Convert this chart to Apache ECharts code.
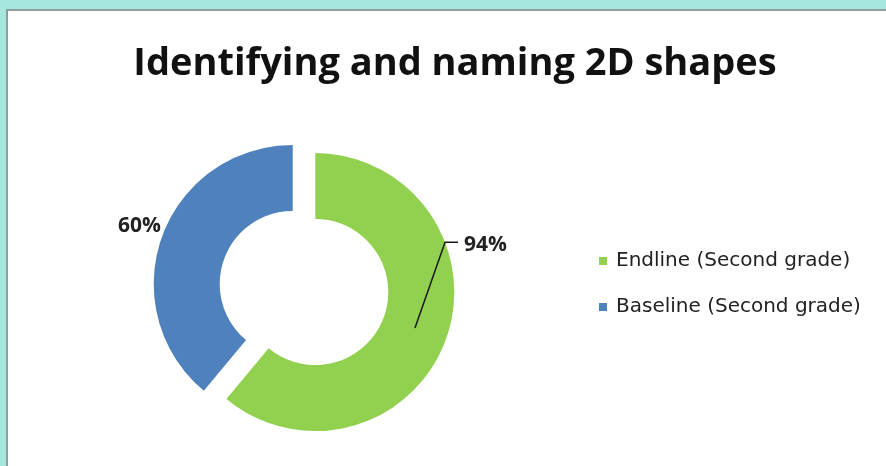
<!DOCTYPE html>
<html>
<head>
<meta charset="utf-8">
<title>Identifying and naming 2D shapes</title>
<script src="https://cdn.jsdelivr.net/npm/echarts@6/dist/echarts.min.js"></script>
<style>
  html, body { margin: 0; padding: 0; width: 886px; height: 466px; overflow: hidden; background: #a6e8e0; }
  #panel {
    position: absolute; left: 6px; top: 9px; right: 0; bottom: 0;
    background: #ffffff;
    border-top: 2px solid #8e9e9c; border-left: 2px solid #8e9e9c;
  }
  #chart { position: absolute; left: 0; top: 0; width: 886px; height: 466px; }
</style>
</head>
<body>
<div id="panel"></div>
<div id="chart"></div>
<script>
// Chart data
const titleText = 'Identifying and naming 2D shapes';
const categories = ['Endline (Second grade)', 'Baseline (Second grade)'];
const values = [94, 60];
const colors = ['#92d050', '#4f81bd'];

// Donut layout (pixels)
const CENTER = [304, 288];
const R_IN = 73;
const R_OUT = 139;
const EXPLODE = 12;
const LEADER_ANGLE = 69;   // where the 94% leader meets the outer edge
const FONT = '"Open Sans", Lato, sans-serif';
const LEGEND_FONT = '"DejaVu Sans", "Open Sans", sans-serif';

const total = values.reduce((a, b) => a + b, 0);

function midAngle(i) {
  let before = 0;
  for (let k = 0; k < i; k++) before += values[k];
  return (before + values[i] / 2) / total * 360;
}
function polar(c, r, deg) {
  const a = deg * Math.PI / 180;
  return [c[0] + r * Math.sin(a), c[1] - r * Math.cos(a)];
}
function sliceCenter(i) {
  return polar(CENTER, EXPLODE, midAngle(i));
}

// Value labels: the first slice gets an elbow leader line, the second sits beside its arc
function labelGraphics() {
  const els = [];
  const labelFont = 'bold 21px ' + FONT;

  const sc0 = sliceCenter(0);
  const start = polar(sc0, (R_IN + R_OUT) / 2, midAngle(0));
  const elbow = polar(sc0, R_OUT, LEADER_ANGLE);
  const end = [elbow[0] + 13, elbow[1]];
  els.push({
    type: 'polyline', z: 100,
    shape: { points: [start, elbow, end] },
    style: { stroke: '#1a1a1a', lineWidth: 1.5, fill: null }
  });
  els.push({
    type: 'text', z: 100, x: end[0] + 6, y: end[1] + 3,
    style: { text: values[0] + '%', font: labelFont, fill: '#222', textAlign: 'left', textVerticalAlign: 'middle' }
  });

  const sc1 = sliceCenter(1);
  const pos = polar(sc1, R_OUT + 24, midAngle(1));
  els.push({
    type: 'text', z: 100, x: pos[0], y: pos[1] - 3,
    style: { text: values[1] + '%', font: labelFont, fill: '#222', textAlign: 'center', textVerticalAlign: 'middle' }
  });
  return els;
}

const chart = echarts.init(document.getElementById('chart'), null, { renderer: 'canvas' });

chart.setOption({
  animation: false,
  backgroundColor: 'transparent',
  title: {
    text: titleText,
    left: 450,
    top: 40,
    textAlign: 'center',
    textStyle: { fontFamily: FONT, fontWeight: 'bold', fontSize: 38, color: '#111' }
  },
  legend: {
    orient: 'vertical',
    left: 594,
    top: 246,
    itemWidth: 8,
    itemHeight: 8,
    itemGap: 26,
    icon: 'rect',
    data: categories,
    textStyle: { fontFamily: LEGEND_FONT, fontSize: 20, color: '#222', lineHeight: 20, padding: [0, 0, 0, 4] },
    selectedMode: false
  },
  graphic: labelGraphics(),
  series: [{
    type: 'pie',
    center: CENTER,
    radius: [R_IN, R_OUT],
    startAngle: 90,
    clockwise: true,
    selectedMode: 'multiple',
    selectedOffset: EXPLODE,
    emphasis: { disabled: true },
    label: { show: false },
    labelLine: { show: false },
    data: categories.map((name, i) => ({
      name: name,
      value: values[i],
      selected: true,
      itemStyle: { color: colors[i] }
    }))
  }]
});
</script>
</body>
</html>
